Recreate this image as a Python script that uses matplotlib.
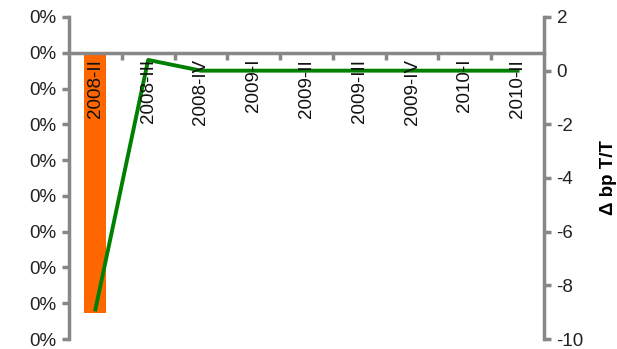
import matplotlib.pyplot as plt
import numpy as np
from matplotlib.ticker import FuncFormatter, FixedLocator
from matplotlib.transforms import blended_transform_factory, offset_copy

plt.rcParams['font.family'] = ['Liberation Sans', 'DejaVu Sans']
plt.rcParams['axes.unicode_minus'] = False

categories = ["2008-II", "2008-III", "2008-IV", "2009-I", "2009-II",
              "2009-III", "2009-IV", "2010-I", "2010-II"]
bar_values = [-0.000727, 0, 0, 0, 0, 0, 0, 0, 0]      # left axis (fraction)
line_values = [-8.9, 0.4, 0, 0, 0, 0, 0, 0, 0]         # right axis, bp q/q
left_ticks = [-0.0008, -0.0007, -0.0006, -0.0005, -0.0004,
              -0.0003, -0.0002, -0.0001, 0.0, 0.0001]
right_ticks = [-10, -8, -6, -4, -2, 0, 2]

grey = "#878787"
fs = 13.5

fig = plt.figure(figsize=(6.17, 3.49), dpi=100)
ax = fig.add_axes([69 / 617, 10 / 349, 475 / 617, 322 / 349])
ax2 = ax.twinx()
ax.set_zorder(1)
ax2.set_zorder(2)
ax.patch.set_visible(False)
ax2.patch.set_visible(False)

x = np.arange(len(categories))
ax.bar(x, bar_values, width=0.42, color="#FF6600", zorder=1)
ax.set_xlim(-0.5, len(categories) - 0.5)
ax.set_ylim(left_ticks[0], left_ticks[-1])
ax.yaxis.set_major_locator(FixedLocator(left_ticks))
ax.yaxis.set_major_formatter(FuncFormatter(lambda v, p: f"{round(v * 100) + 0:.0f}%"))

for s in ["top", "right"]:
    ax.spines[s].set_visible(False)
ax.spines["left"].set_color(grey)
ax.spines["left"].set_linewidth(2.5)
ax.spines["bottom"].set_position(("data", 0))
ax.spines["bottom"].set_color(grey)
ax.spines["bottom"].set_linewidth(2.5)
ax.set_xticks(x[:-1] + 0.5)
ax.set_xticklabels([])
ax.tick_params(axis="x", direction="out", length=5, width=2.5, color=grey)
ax.tick_params(axis="y", direction="out", length=5, width=2.5, color=grey,
               labelsize=fs, labelcolor="#222222", pad=4)

ax2.plot(x, line_values, color="#008000", linewidth=2.8, zorder=3)
ax2.set_ylim(-10, 2)
ax2.set_yticks(right_ticks)
ax2.set_xlim(ax.get_xlim())
for s in ["top", "bottom", "left"]:
    ax2.spines[s].set_visible(False)
ax2.spines["right"].set_color(grey)
ax2.spines["right"].set_linewidth(2.5)
ax2.tick_params(axis="y", direction="out", length=5, width=2.5, color=grey,
                labelsize=fs, labelcolor="#222222", pad=4)
ax2.set_ylabel("Δ bp T/T", fontsize=fs, fontweight="bold", labelpad=12)

trans = blended_transform_factory(ax2.transData, ax.transData)
trans = offset_copy(trans, fig=fig, y=-6, units="dots")
for xi, lab in zip(x, categories):
    ax2.text(xi, 0, lab, transform=trans, rotation=90, ha="center", va="top",
             fontsize=fs, color="#111111", zorder=5)

fig.savefig("out.png", dpi=100)
